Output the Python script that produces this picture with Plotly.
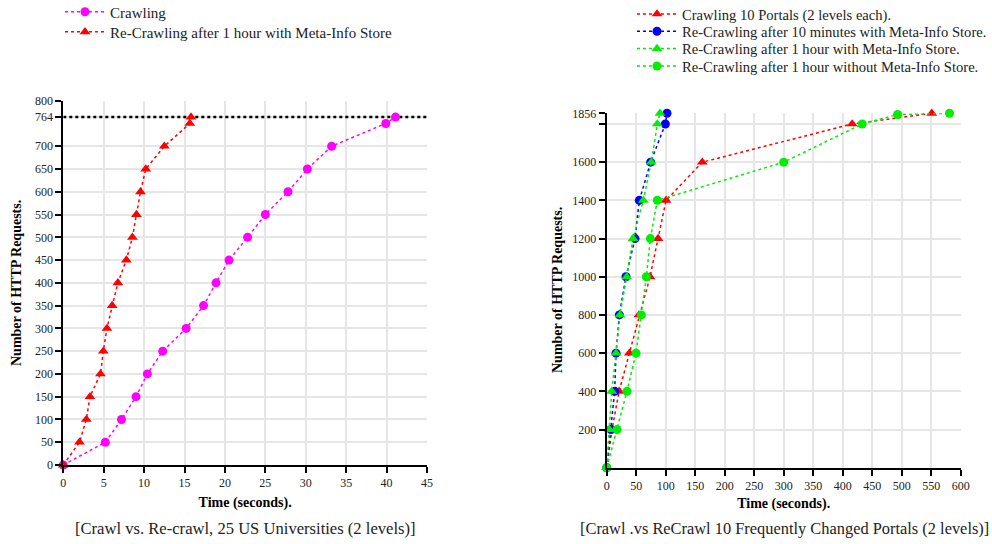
import plotly.graph_objects as go

# ---- Left chart data ----
crawl_t = [0, 5.2, 7.2, 9.0, 10.4, 12.3, 15.2, 17.35, 18.9, 20.5, 22.8, 25.0, 27.8, 30.2, 33.2, 39.9, 41.1]
crawl_n = [0, 50, 100, 150, 200, 250, 300, 350, 400, 450, 500, 550, 600, 650, 700, 750, 764]
recrawl_t = [0, 2.0, 2.85, 3.3, 4.6, 4.95, 5.4, 6.05, 6.75, 7.8, 8.55, 9.05, 9.55, 10.2, 12.5, 15.65, 15.8]
recrawl_n = [0, 50, 100, 150, 200, 250, 300, 350, 400, 450, 500, 550, 600, 650, 700, 750, 764]
left_yticks = [0, 50, 100, 150, 200, 250, 300, 350, 400, 450, 500, 550, 600, 650, 700, 764, 800]
left_xticks = [0, 5, 10, 15, 20, 25, 30, 35, 40, 45]
limit_left = 764

# ---- Right chart data ----
portal_n = [0, 200, 400, 600, 800, 1000, 1200, 1400, 1600, 1800, 1856]
crawl10_t = [0, 9, 21, 38.4, 54.7, 73.4, 87, 100.6, 162, 416, 551]
re10min_t = [0, 7.3, 13.5, 15.8, 21.4, 32.7, 48, 55.3, 74.5, 99.4, 102.2]
re1h_meta_t = [0, 4.5, 8.5, 15.8, 22.5, 33.9, 44.6, 62, 75.6, 85.8, 90.3]
re1h_nometa_t = [0, 17.5, 34.4, 49.7, 58.7, 67.2, 74, 85.8, 300, 433, 493, 581]
re1h_nometa_n = [0, 200, 400, 600, 800, 1000, 1200, 1400, 1600, 1800, 1850, 1856]
right_yticks = [200, 400, 600, 800, 1000, 1200, 1400, 1600, 1800, 1856]
right_yticklabels = ["200", "400", "600", "800", "1000", "1200", "1400", "1600", "", "1856"]
right_xticks = list(range(0, 601, 50))

FONT = "Liberation Serif"
MAG = "#ff00ff"
RED = "#ff0000"
BLUE = "#0000ff"
GREEN = "#00ee00"

W, H = 992, 544
def px_x(p): return p / W
def px_y(p): return (H - p) / H

fig = go.Figure()

def add(x, y, name, color, symbol, xa, ya, legend, size=9):
    fig.add_trace(go.Scatter(
        x=x, y=y, name=name, mode="lines+markers",
        line=dict(color=color, width=1.5, dash="dot"),
        marker=dict(color=color, symbol=symbol, size=size),
        xaxis=xa, yaxis=ya, legend=legend, cliponaxis=False))

# left
fig.add_trace(go.Scatter(x=[0, 45], y=[limit_left, limit_left], mode="lines",
                         line=dict(color="black", width=2.5, dash="dot"),
                         showlegend=False, xaxis="x", yaxis="y", hoverinfo="skip"))
add(crawl_t, crawl_n, "Crawling", MAG, "circle", "x", "y", "legend", 9)
add(recrawl_t, recrawl_n, "Re-Crawling after 1 hour with Meta-Info Store", RED, "triangle-up", "x", "y", "legend2", 9.5)

# right
add(crawl10_t, portal_n, "Crawling 10 Portals (2 levels each).", RED, "triangle-up", "x2", "y2", "legend3", 9.5)
add(re10min_t, portal_n, "Re-Crawling after 10 minutes with Meta-Info Store.", BLUE, "circle", "x2", "y2", "legend4", 9)
add(re1h_meta_t, portal_n, "Re-Crawling after 1 hour with Meta-Info Store.", GREEN, "triangle-up", "x2", "y2", "legend5", 9.5)
add(re1h_nometa_t, re1h_nometa_n, "Re-Crawling after 1 hour without Meta-Info Store.", GREEN, "circle", "x2", "y2", "legend6", 9)

axis_common = dict(showgrid=True, gridcolor="#e6e6e6", gridwidth=1.5,
                   showline=True, linecolor="black", linewidth=2,
                   ticks="outside", ticklen=6, tickcolor="black", tickwidth=1.5,
                   zeroline=False, automargin=False,
                   tickfont=dict(family=FONT, size=12, color="#222"))
title_font = dict(family=FONT, size=14, color="black")

def leg(x, yc, fs=15):
    return dict(x=px_x(x), y=px_y(yc), xanchor="left", yanchor="middle",
                font=dict(family=FONT, size=fs, color="#222"), bgcolor="rgba(0,0,0,0)",
                itemwidth=40)

def ytitle(x, yc):
    return dict(text="<b>Number of HTTP Requests.</b>", x=px_x(x), y=px_y(yc), textangle=-90,
                xref="paper", yref="paper", xanchor="center", yanchor="middle", showarrow=False,
                font=title_font)

fig.update_layout(
    width=W, height=H, margin=dict(l=0, r=0, t=0, b=0, autoexpand=False),
    plot_bgcolor="white", paper_bgcolor="white",
    font=dict(family=FONT, size=14, color="#222"),
    xaxis=dict(domain=[px_x(63.3), px_x(427)], range=[0, 45], tickvals=left_xticks,
               anchor="y", **axis_common,
               title=dict(text="<b>Time (seconds).</b>", font=title_font, standoff=8)),
    yaxis=dict(domain=[px_y(465), px_y(100.7)], range=[0, 800], tickvals=left_yticks,
               anchor="x", **axis_common),
    xaxis2=dict(domain=[px_x(606.7), px_x(960.7)], range=[0, 600], tickvals=right_xticks,
                anchor="y2", **axis_common,
                title=dict(text="<b>Time (seconds).</b>", font=title_font, standoff=6)),
    yaxis2=dict(domain=[px_y(467.7), px_y(113.3)], range=[0, 1856], tickvals=right_yticks,
                ticktext=right_yticklabels, anchor="x2", **axis_common),
    legend=leg(60, 12),
    legend2=leg(60, 32),
    legend3=leg(632, 14, 14.6),
    legend4=leg(632, 31.3, 14.6),
    legend5=leg(632, 48.6, 14.6),
    legend6=leg(632, 66, 14.6),
    annotations=[
        ytitle(16, 283),
        ytitle(557, 290),
        dict(text="[Crawl vs. Re-crawl, 25 US Universities (2 levels)]", x=px_x(245), y=px_y(528),
             xref="paper", yref="paper", xanchor="center", yanchor="middle", showarrow=False,
             font=dict(family=FONT, size=16.6, color="#222")),
        dict(text="[Crawl .vs ReCrawl 10 Frequently Changed Portals (2 levels)]", x=px_x(784), y=px_y(528),
             xref="paper", yref="paper", xanchor="center", yanchor="middle", showarrow=False,
             font=dict(family=FONT, size=16.4, color="#222")),
    ],
)

fig.write_html("out.html", config={"displayModeBar": False},
               post_script="document.body.style.margin='0';")
